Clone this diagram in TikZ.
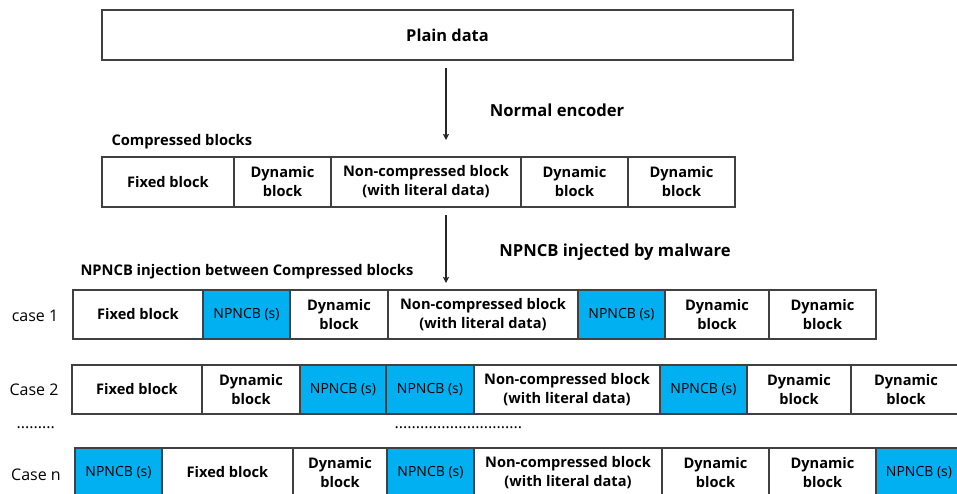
\documentclass[tikz,border=0pt]{standalone}
\usepackage{fontspec}
\setmainfont{Open Sans}
\usetikzlibrary{positioning,arrows.meta}

\definecolor{npblue}{HTML}{00B0F0}
\definecolor{edgegray}{HTML}{404040}

\tikzset{
    blk/.style={draw=edgegray, line width=1.2pt, minimum height=49pt,
        inner sep=0pt, outer sep=0pt, align=center,
        font=\bfseries\fontsize{14.6}{19}\selectfont},
    npncb/.style={blk, fill=npblue, font=\fontsize{14}{16}\selectfont},
    lbl/.style={font=\bfseries\fontsize{16.6}{19}\selectfont},
    sublbl/.style={font=\bfseries\fontsize{14.7}{17}\selectfont},
    caselbl/.style={font=\fontsize{16}{18}\selectfont},
    arr/.style={-{Stealth[length=6pt,width=6pt,inset=1pt]}, line width=1.6pt, draw=black!85},
}

\begin{document}
\begin{tikzpicture}[x=1pt, y=-1pt]
    \useasboundingbox (0,0) rectangle (957,493);
    \clip (0,0) rectangle (957,493);

    % plain data and the encoder step
    \node [blk, font=\bfseries\fontsize{16.4}{19}\selectfont, minimum width=691pt, minimum height=50pt, anchor=north west] (plain) at (102,10) {Plain data};
    \coordinate (enctop) at (446,68);
    \coordinate (encbot) at (446,140);
    \draw [arr] (enctop) -- (encbot);
    \node [lbl] (enclbl) at (557,110) {Normal encoder};

    % compressed blocks
    \node [sublbl, anchor=west] (comptitle) at (108,142) {Compressed blocks};
    \node [blk, minimum width=132pt, minimum height=50pt, anchor=north west] (cfix) at (102,157) {Fixed block};
    \node [blk, minimum width=97pt, minimum height=50pt, right=0pt of cfix] (cdyna) {Dynamic\\block};
    \node [blk, minimum width=190pt, minimum height=50pt, right=0pt of cdyna] (cnon) {Non-compressed block\\(with literal data)};
    \node [blk, minimum width=107pt, minimum height=50pt, right=0pt of cnon] (cdynb) {Dynamic\\block};
    \node [blk, minimum width=107pt, minimum height=50pt, right=0pt of cdynb] (cdync) {Dynamic\\block};

    % injection step
    \coordinate (injtop) at (446,215);
    \coordinate (injbot) at (446,283);
    \draw [arr] (injtop) -- (injbot);
    \node [lbl] (injlbl) at (615,252) {NPNCB injected by malware};
    \node [sublbl, anchor=west] (injtitle) at (77,272) {NPNCB injection between Compressed blocks};

    % case 1
    \node [caselbl] (case1) at (35,316) {case 1};
    \node [blk, minimum width=130pt, anchor=north west] (afix) at (73,290) {Fixed block};
    \node [npncb, minimum width=87pt, right=0pt of afix] (anpa) {NPNCB (s)};
    \node [blk, minimum width=98pt, right=0pt of anpa] (adyna) {Dynamic\\block};
    \node [blk, minimum width=190pt, right=0pt of adyna] (anon) {Non-compressed block\\(with literal data)};
    \node [npncb, minimum width=87pt, right=0pt of anon] (anpb) {NPNCB (s)};
    \node [blk, minimum width=104pt, right=0pt of anpb] (adynb) {Dynamic\\block};
    \node [blk, minimum width=107pt, right=0pt of adynb] (adync) {Dynamic\\block};

    % case 2
    \node [caselbl] (case2) at (34,390) {Case 2};
    \node [blk, minimum width=130pt, anchor=north west] (bfix) at (72,365) {Fixed block};
    \node [blk, minimum width=98pt, right=0pt of bfix] (bdyna) {Dynamic\\block};
    \node [npncb, minimum width=86pt, right=0pt of bdyna] (bnpa) {NPNCB (s)};
    \node [npncb, minimum width=88pt, right=0pt of bnpa] (bnpb) {NPNCB (s)};
    \node [blk, minimum width=186pt, right=0pt of bnpb] (bnon) {Non-compressed block\\(with literal data)};
    \node [npncb, minimum width=87pt, right=0pt of bnon] (bnpc) {NPNCB (s)};
    \node [blk, minimum width=104pt, right=0pt of bnpc] (bdynb) {Dynamic\\block};
    \node [blk, minimum width=110pt, right=0pt of bdynb] (bdync) {Dynamic\\block};

    % gap between the cases
    \node [caselbl, anchor=west] (gapa) at (13,428) {.........};
    \node [caselbl, anchor=west] (gapb) at (391,428) {..............................};

    % case n
    \node [caselbl] (casen) at (36,475) {Case n};
    \node [npncb, minimum width=87pt, anchor=north west] (nnpa) at (75,448) {NPNCB (s)};
    \node [blk, minimum width=131pt, right=0pt of nnpa] (nfix) {Fixed block};
    \node [blk, minimum width=94pt, right=0pt of nfix] (ndyna) {Dynamic\\block};
    \node [npncb, minimum width=87pt, right=0pt of ndyna] (nnpb) {NPNCB (s)};
    \node [blk, minimum width=188pt, right=0pt of nnpb] (nnon) {Non-compressed block\\(with literal data)};
    \node [blk, minimum width=107pt, right=0pt of nnon] (ndynb) {Dynamic\\block};
    \node [blk, minimum width=107pt, right=0pt of ndynb] (ndync) {Dynamic\\block};
    \node [npncb, minimum width=86pt, right=0pt of ndync] (nnpc) {NPNCB (s)};
\end{tikzpicture}
\end{document}
